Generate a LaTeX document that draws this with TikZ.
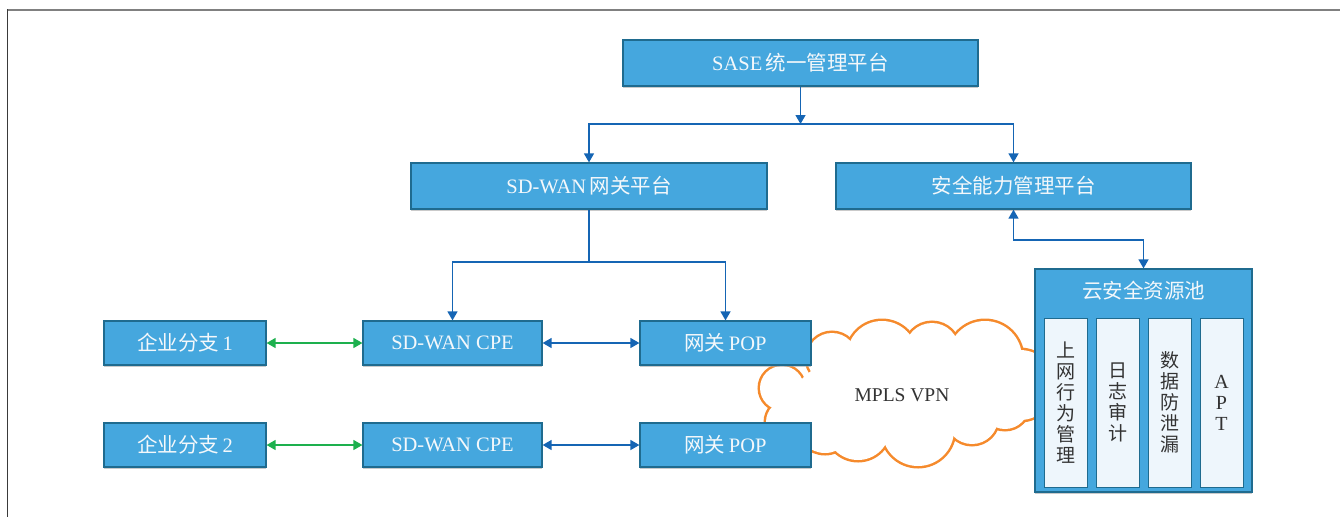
\documentclass[tikz,border=0pt]{standalone}
\usepackage{fontspec}
\setmainfont{Liberation Serif}
\newfontfamily\cjk{Noto Sans CJK SC}
\usetikzlibrary{arrows.meta,shadows,backgrounds}
\definecolor{boxfill}{HTML}{45A7DE}
\definecolor{boxedge}{HTML}{1F6B8F}
\definecolor{linkblue}{HTML}{1565B4}
\definecolor{linkgreen}{HTML}{1DB04E}
\definecolor{cloudline}{HTML}{F58A2C}
\definecolor{cellfill}{HTML}{EEF6FC}
\definecolor{darktext}{HTML}{333333}
\definecolor{frametop}{HTML}{808080}
\definecolor{frameleft}{HTML}{3A3A3A}
\definecolor{boxtext}{HTML}{F4F8FB}
\begin{document}
\begin{tikzpicture}[x=1pt,y=-1pt,
  box/.style={draw=boxedge, line width=1.2pt, fill=boxfill, text=boxtext,
    font=\fontsize{20.5}{24}\selectfont, inner sep=0pt,
    drop shadow={shadow xshift=0pt, shadow yshift=-1.6pt, fill=black!35, opacity=0.6}},
  cell/.style={draw=boxedge, line width=1pt, fill=cellfill, text=darktext,
    font=\cjk\fontsize{19}{21}\selectfont, inner sep=0pt, align=center,
    minimum width=43, minimum height=169},
  link/.style={draw=linkblue, line width=1.4pt},
  one/.style={link, -{Triangle[width=10pt,length=9pt]}},
  both/.style={link, {Triangle[width=10pt,length=9pt]}-{Triangle[width=10pt,length=9pt]}},
  greenboth/.style={both, draw=linkgreen}]
\useasboundingbox (0,0) rectangle (1340,517);

% page frame
\draw[frametop, line width=2pt] (7,9.5) -- (1340,9.5);
\draw[frameleft, line width=1.5pt] (7.5,9) -- (7.5,517);

% platform boxes
\node[box, minimum width=355, minimum height=46] (sase) at (800.5,63) {SASE\,{\cjk 统一管理平台}};
\node[box, minimum width=356, minimum height=46] (sdp) at (589,186) {SD-WAN\,{\cjk 网关平台}};
\node[box, minimum width=355, minimum height=46] (sec) at (1013.5,186) {\cjk 安全能力管理平台};

% branch rows
\node[box, minimum width=162, minimum height=44] (br1) at (185,343) {{\cjk 企业分支}\,1};
\node[box, minimum width=179, minimum height=44] (cpe1) at (452.5,343) {SD-WAN CPE};
\node[box, minimum width=171, minimum height=44] (pop1) at (725.5,343) {{\cjk 网关}\,POP};
\node[box, minimum width=162, minimum height=44] (br2) at (185,445) {{\cjk 企业分支}\,2};
\node[box, minimum width=179, minimum height=44] (cpe2) at (452.5,445) {SD-WAN CPE};
\node[box, minimum width=171, minimum height=44] (pop2) at (725.5,445) {{\cjk 网关}\,POP};

% cloud resource pool
\node[box, minimum width=217, minimum height=223] (pool) at (1143.5,380.5) {};
\node[text=boxtext, font=\cjk\fontsize{20.5}{24}\selectfont] (pooltitle) at (1143.5,291) {云安全资源池};
\node[cell] (c1) at (1065.5,402.5) {上\\网\\行\\为\\管\\理};
\node[cell] (c2) at (1117.5,402.5) {日\\志\\审\\计};
\node[cell] (c3) at (1169.5,402.5) {数\\据\\防\\泄\\漏};
\node[cell, font=\rmfamily\fontsize{20}{21}\selectfont] (c4) at (1221.5,402.5) {A\\P\\T};

% MPLS cloud: stroked puffs, then white fills leave only the outer rim
\node[text=darktext, font=\fontsize{19.5}{22}\selectfont] (mpls) at (902,395) {MPLS VPN};
\begin{scope}[on background layer]
  \def\puffs{832/358/25, 882/356/35, 932/350/27, 985/358/37, 1020/385/35,
      1005/405/24, 972/418/26, 918/430/36, 858/428/32, 825/425/28, 782/388/22, 788/422/22}
  \foreach \cx/\cy/\r in \puffs
    \draw[cloudline, line width=5pt] (\cx,\cy) circle[radius=\r];
  \foreach \cx/\cy/\r in \puffs
    \fill[white] (\cx,\cy) circle[radius=\r];
  \fill[white] (900,395) ellipse[x radius=105, y radius=45];
\end{scope}

% management tree
\coordinate (j1) at (800.5,124);
\draw[one] (sase) -- (j1);
\draw[one] (j1) -| (sdp.north);
\draw[one] (j1) -| (sec.north);
\coordinate (j2) at (589,262);
\draw[link] (sdp) -- (j2);
\draw[one] (j2) -| (cpe1.north);
\draw[one] (j2) -| (pop1.north);
\coordinate (j3) at (1013.5,240);
\draw[both] (sec.south) -- (j3) -| (pool.north);

% data paths
\draw[greenboth] (br1.east) -- (cpe1.west);
\draw[greenboth] (br2.east) -- (cpe2.west);
\draw[both] (cpe1.east) -- (pop1.west);
\draw[both] (cpe2.east) -- (pop2.west);
\end{tikzpicture}
\end{document}
